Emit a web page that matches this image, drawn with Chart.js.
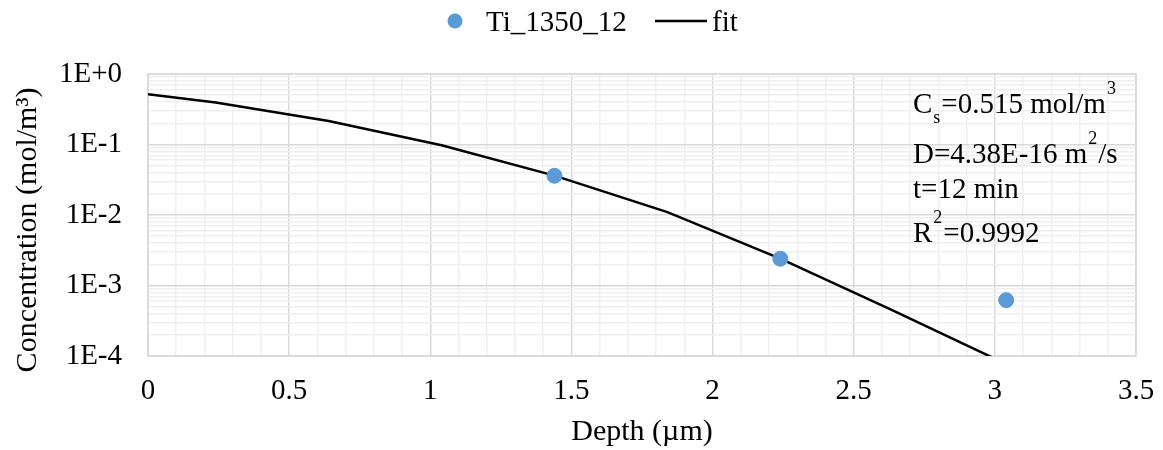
<!DOCTYPE html>
<html>
<head>
<meta charset="utf-8">
<script src="https://cdn.jsdelivr.net/npm/chart.js@4"></script>
<style>
html,body{margin:0;padding:0;background:#fff;}
#wrap{width:1163px;height:450px;position:relative;}
</style>
</head>
<body>
<div id="wrap"><canvas id="c" width="1163" height="450"></canvas></div>
<script>
// ---- data ----
const sampleDepth = [1.44, 2.24, 3.04];
const sampleConc  = [0.036, 0.0024, 0.00062];
const fitDepth = [0, 0.24, 0.64, 1.04, 1.44, 1.84, 2.24, 2.64, 3.04];
const fitConc  = [0.515, 0.393, 0.216, 0.0978, 0.0362, 0.0110, 0.00241, 0.00044, 0.000077];
const xTickLabels = ['0','0.5','1','1.5','2','2.5','3','3.5'];
const yTickLabels = ['1E-4','1E-3','1E-2','1E-1','1E+0'];
const seriesNames = ['Ti_1350_12', 'fit'];
const xTitle = 'Depth (µm)';
const yTitle = 'Concentration (mol/m³)';
const annotationLines = [
  [{t:'C'},{t:'s',sub:true},{t:'=0.515 mol/m'},{t:'3',sup:true}],
  [{t:'D=4.38E-16 m'},{t:'2',sup:true},{t:'/s'}],
  [{t:'t=12 min'}],
  [{t:'R'},{t:'2',sup:true},{t:'=0.9992'}]
];

const FONT = '"Liberation Serif","Times New Roman",serif';
const BLUE = '#5b9bd5';

const borderPlugin = {
  id:'plotBorder',
  beforeDatasetsDraw(chart){
    const {ctx, chartArea:a} = chart;
    ctx.save();
    ctx.strokeStyle = '#d9d9d9';
    ctx.lineWidth = 1.5;
    ctx.strokeRect(a.left, a.top, a.right-a.left, a.bottom-a.top);
    ctx.restore();
  }
};

const legendPlugin = {
  id:'customLegend',
  afterDraw(chart){
    const ctx = chart.ctx;
    ctx.save();
    ctx.font = '29px ' + FONT;
    ctx.textBaseline = 'alphabetic';
    ctx.beginPath();
    ctx.fillStyle = BLUE;
    ctx.arc(455, 21, 7.5, 0, Math.PI*2);
    ctx.fill();
    ctx.fillStyle = '#000';
    ctx.fillText(seriesNames[0], 486, 31);
    ctx.strokeStyle = '#000';
    ctx.lineWidth = 2.5;
    ctx.beginPath();
    ctx.moveTo(655, 21); ctx.lineTo(707, 21);
    ctx.stroke();
    ctx.fillText(seriesNames[1], 712, 31);
    ctx.restore();
  }
};

const yTitlePlugin = {
  id:'yTitle',
  afterDraw(chart){
    const ctx = chart.ctx;
    ctx.save();
    ctx.font = '30px ' + FONT;
    ctx.fillStyle = '#000';
    ctx.textAlign = 'center';
    ctx.textBaseline = 'middle';
    ctx.translate(28, 230);
    ctx.rotate(-Math.PI/2);
    ctx.fillText(yTitle, 0, 0);
    ctx.restore();
  }
};

const annotPlugin = {
  id:'annot',
  afterDatasetsDraw(chart){
    const ctx = chart.ctx;
    ctx.save();
    ctx.fillStyle = '#000';
    ctx.textBaseline = 'alphabetic';
    const baselines = [113, 163, 198, 242];
    annotationLines.forEach((line, i) => {
      let x = 913;
      const y = baselines[i];
      line.forEach(seg => {
        if (seg.sub) {
          ctx.font = '18px ' + FONT;
          ctx.fillText(seg.t, x + 1, y + 10);
          x += ctx.measureText(seg.t).width + 2;
        } else if (seg.sup) {
          ctx.font = '18px ' + FONT;
          ctx.fillText(seg.t, x + 1, y - 19);
          x += ctx.measureText(seg.t).width + 2;
        } else {
          ctx.font = '29px ' + FONT;
          ctx.fillText(seg.t, x, y);
          x += ctx.measureText(seg.t).width;
        }
      });
    });
    ctx.restore();
  }
};

new Chart(document.getElementById('c'), {
  type: 'scatter',
  data: {
    datasets: [
      {
        label: seriesNames[0],
        data: sampleDepth.map((x,i)=>({x:x, y:sampleConc[i]})),
        backgroundColor: BLUE,
        borderColor: BLUE,
        pointRadius: 7.5,
        pointHoverRadius: 7.5,
        order: 1
      },
      {
        label: seriesNames[1],
        type: 'line',
        data: fitDepth.map((x,i)=>({x:x, y:fitConc[i]})),
        borderColor: '#000',
        borderWidth: 2.5,
        pointRadius: 0,
        fill: false,
        tension: 0,
        order: 2
      }
    ]
  },
  options: {
    responsive: false,
    animation: false,
    devicePixelRatio: 1,
    layout: { padding: { top: 74, right: 27, bottom: 0, left: 0 } },
    plugins: { legend: { display: false }, tooltip: { enabled: false } },
    scales: {
      x: {
        type: 'linear',
        min: 0, max: 3.5,
        afterBuildTicks(scale){
          const t = [];
          for (let i = 0; i <= 35; i++) t.push({value: i/10});
          scale.ticks = t;
        },
        afterFit(scale){ scale.height = 94; scale.paddingLeft = 0; scale.paddingRight = 0; },
        ticks: {
          autoSkip: false,
          maxRotation: 0,
          padding: 18,
          color: '#000',
          font: { family: FONT, size: 29 },
          callback(v, i){ return i % 5 === 0 ? xTickLabels[i/5] : ''; }
        },
        grid: {
          drawTicks: false,
          color(ctx){ return ctx.index % 5 === 0 ? '#d9d9d9' : '#efefef'; },
          lineWidth: 1.5
        },
        border: { display: false },
        title: {
          display: true,
          text: xTitle,
          color: '#000',
          font: { family: FONT, size: 30 },
          padding: { top: 0, bottom: 0 }
        }
      },
      y: {
        type: 'logarithmic',
        min: 0.0001, max: 1,
        afterBuildTicks(scale){
          const t = [];
          for (let e = -4; e <= 0; e++) {
            for (let m = 1; m <= 9; m++) {
              if (e === 0 && m > 1) break;
              t.push({value: m * Math.pow(10, e), major: m === 1});
            }
          }
          scale.ticks = t;
        },
        afterFit(scale){ scale.width = 148; scale.paddingTop = 0; scale.paddingBottom = 0; },
        ticks: {
          autoSkip: false,
          padding: 26,
          color: '#000',
          font: { family: FONT, size: 29 },
          callback(v, i, ticks){
            const tk = ticks[i];
            if (!tk.major) return '';
            return yTickLabels[Math.round(Math.log10(v)) + 4];
          }
        },
        grid: {
          drawTicks: false,
          color(ctx){ return (ctx.tick && ctx.tick.major) ? '#d9d9d9' : '#efefef'; },
          lineWidth: 1.5
        },
        border: { display: false },
        title: { display: false }
      }
    }
  },
  plugins: [borderPlugin, legendPlugin, yTitlePlugin, annotPlugin]
});
</script>
</body>
</html>
